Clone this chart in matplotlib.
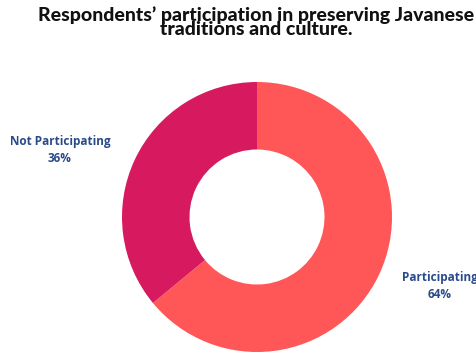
import matplotlib.pyplot as plt

# Survey result: share of respondents preserving Javanese traditions
labels = ["Participating", "Not Participating"]
shares = [64, 36]
colors = ["#FF5757", "#D7195F"]

W, H = 477, 355
fig = plt.figure(figsize=(W / 100, H / 100), dpi=100)

# donut centred at (257, 217) px, outer radius 135 px
cx, cy, r = 257, 217, 135
ax = fig.add_axes([(cx - r) / W, (H - cy - r) / H, 2 * r / W, 2 * r / H])
ax.pie(shares, colors=colors, startangle=90, counterclock=False,
       radius=1.0, wedgeprops=dict(width=0.5, edgecolor="none"))
ax.set_xlim(-1, 1)
ax.set_ylim(-1, 1)
ax.set_aspect("equal")
ax.axis("off")

title_font = dict(family=["Lato", "DejaVu Sans"], fontweight="black",
                  fontsize=14, color="#111111", ha="center", va="center",
                  linespacing=0.82)
fig.text(256 / W, 1 - 22 / H,
         "Respondents\u2019 participation in preserving Javanese\ntraditions and culture.",
         **title_font)

label_font = dict(family=["Open Sans", "DejaVu Sans"], fontweight="bold",
                  fontsize=8.5, color="#2A4A8A", ha="center", va="center",
                  linespacing=1.45)
fig.text(60 / W, 1 - 150 / H, f"{labels[1]}\n{shares[1]}%", **label_font)
fig.text(440 / W, 1 - 286 / H, f"{labels[0]}\n{shares[0]}%", **label_font)

fig.savefig("out.png", dpi=100)
